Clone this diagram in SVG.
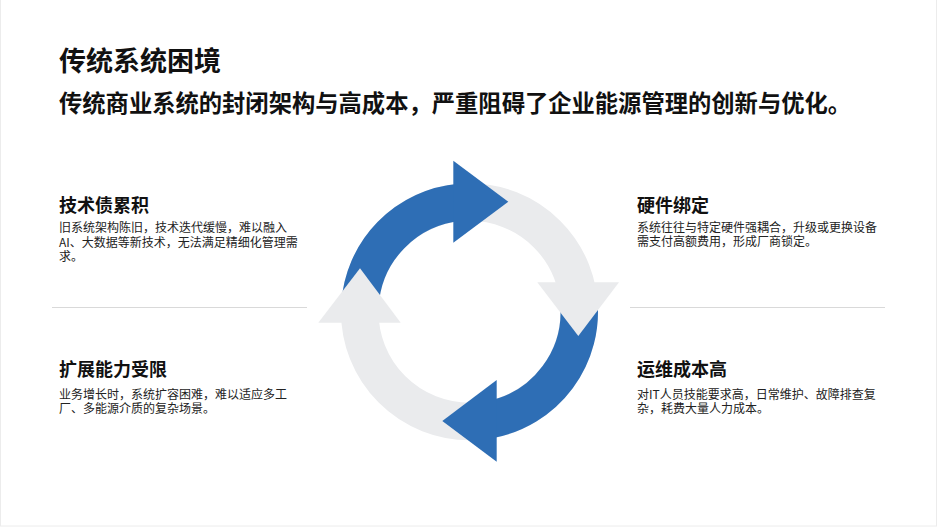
<svg xmlns="http://www.w3.org/2000/svg" width="938" height="527" viewBox="0 0 938 527">
  <style>
    .cjk { font-family: "Noto Sans CJK SC", "Noto Sans", sans-serif; }
    .title { font-size: 27px; font-weight: 700; fill: #111111; }
    .sub { font-size: 23.3px; font-weight: 700; fill: #111111; }
    .head { font-size: 18px; font-weight: 700; fill: #111111; }
    .body { font-size: 12px; font-weight: 400; fill: #222222; }
    .divider { stroke: #D9D9D9; stroke-width: 1; }
    .ring { fill: none; stroke: #EAEBED; stroke-width: 37.5; }
    .blueArc { fill: none; stroke: #2E6EB5; stroke-width: 37.5; }
    .blueHead { fill: #2E6EB5; }
    .grayHead { fill: #EAEBED; }
  </style>
  <rect x="0" y="0" width="938" height="527" fill="#FFFFFF"/>
  <rect x="0.5" y="-2" width="936" height="528" fill="none" stroke="#ECECEC" stroke-width="1"/>

  <g id="header" class="cjk">
    <text class="title" x="59" y="71">传统系统困境</text>
    <text class="sub" x="59" y="112">传统商业系统的封闭架构与高成本，严重阻碍了企业能源管理的创新与优化。</text>
  </g>

  <g id="connectors">
    <line class="divider" x1="52" y1="307.5" x2="307" y2="307.5"/>
    <line class="divider" x1="630" y1="307.5" x2="885" y2="307.5"/>
  </g>

  <g id="cycle">
    <circle class="ring" cx="469.5" cy="311.75" r="109.75"/>
    <path class="blueArc" d="M359.96,305 A109.75,109.75 0 0 1 460,202.41"/>
    <path class="blueArc" d="M578.62,300 A109.75,109.75 0 0 1 490,419.57"/>
    <polygon class="grayHead" points="537.3,282.3 619,282.3 578.3,336"/>
    <polygon class="grayHead" points="318.3,322.7 400.7,322.7 360,268.3"/>
    <polygon class="blueHead" points="453.3,160.7 508.3,201.7 453.3,242.7"/>
    <polygon class="blueHead" points="496.7,380 442.3,421 496.7,461.7"/>
  </g>

  <g id="tech-debt" class="cjk">
    <text class="head" x="59" y="212">技术债累积</text>
    <text class="body" x="59" y="232">旧系统架构陈旧，技术迭代缓慢，难以融入</text>
    <text class="body" x="59" y="246.7">AI、大数据等新技术，无法满足精细化管理需</text>
    <text class="body" x="59" y="261.4">求。</text>
  </g>

  <g id="hardware-lock" class="cjk">
    <text class="head" x="637" y="212">硬件绑定</text>
    <text class="body" x="637" y="231.5">系统往往与特定硬件强耦合，升级或更换设备</text>
    <text class="body" x="637" y="246">需支付高额费用，形成厂商锁定。</text>
  </g>

  <g id="scalability" class="cjk">
    <text class="head" x="59" y="375.5">扩展能力受限</text>
    <text class="body" x="59" y="398.5">业务增长时，系统扩容困难，难以适应多工</text>
    <text class="body" x="59" y="413">厂、多能源介质的复杂场景。</text>
  </g>

  <g id="ops-cost" class="cjk">
    <text class="head" x="637" y="375.5">运维成本高</text>
    <text class="body" x="637" y="398.5">对IT人员技能要求高，日常维护、故障排查复</text>
    <text class="body" x="637" y="413">杂，耗费大量人力成本。</text>
  </g>
</svg>
